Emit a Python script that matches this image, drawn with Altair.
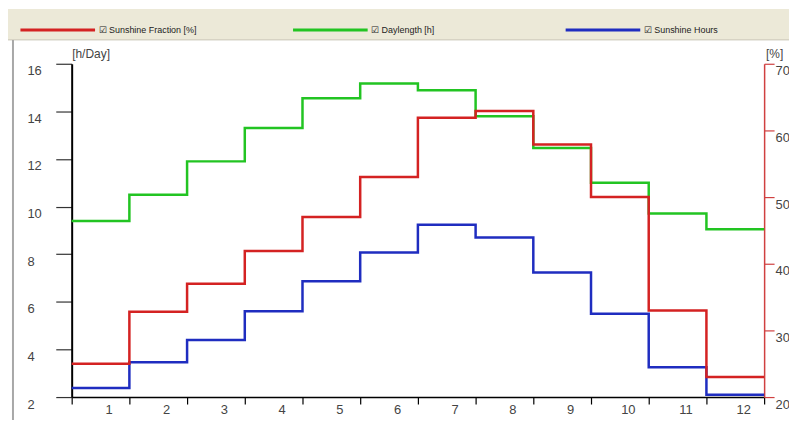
import altair as alt
import pandas as pd

# ---- data ----
months = list(range(1, 13))
series_names = ["Sunshine Fraction [%]", "Daylength [h]", "Sunshine Hours"]
series_colors = ["#d42222", "#22c422", "#1f2dc0"]
sunshine_fraction = [25.0, 32.8, 37.0, 41.9, 47.0, 53.0, 61.9, 62.9, 57.9, 50.0, 33.0, 23.0]
daylength = [9.4, 10.5, 11.9, 13.3, 14.55, 15.17, 14.89, 13.8, 12.46, 11.0, 9.71, 9.05]
sunshine_hours = [2.38, 3.46, 4.4, 5.6, 6.86, 8.07, 9.24, 8.7, 7.23, 5.5, 3.25, 2.1]
left_ticks = [2, 4, 6, 8, 10, 12, 14, 16]
right_ticks = [20, 30, 40, 50, 60, 70]
x_ticks = list(range(0, 13))


def steps(name, values):
    # each month spans [m-1, m]; closing point repeats the last value
    rows = [{"x": m - 1, "v": v, "series": name} for m, v in zip(months, values)]
    rows.append({"x": 12, "v": values[-1], "series": name})
    return rows


left_df = pd.DataFrame(steps(series_names[1], daylength) + steps(series_names[2], sunshine_hours))
right_df = pd.DataFrame(steps(series_names[0], sunshine_fraction))

W, H = 696, 335
FONT = "Liberation Sans"

color = alt.Color(
    "series:N",
    scale=alt.Scale(domain=series_names, range=series_colors),
    legend=alt.Legend(
        orient="none", legendX=-53, legendY=-73, direction="horizontal",
        title=None, symbolType="stroke", symbolSize=5625, symbolStrokeWidth=3,
        labelFontSize=9, labelFont=FONT, labelColor="#222", labelOffset=2,
        columnPadding=90, gridAlign="all", labelExpr="'\u2611 ' + datum.label",
        zindex=1, padding=0,
    ),
)

x_enc = alt.X(
    "x:Q",
    scale=alt.Scale(domain=[0, 12], nice=False, zero=False),
    axis=alt.Axis(
        values=x_ticks, tickSize=7, labelPadding=0, labelOffset=37, labelFlush=False,
        labelExpr="datum.value < 12 ? '' + (datum.value + 1) : ''",
        domainColor="#000", domainWidth=1.5, tickColor="#000", tickWidth=1.2,
        title=None, grid=False,
    ),
)

left_line = alt.Chart(left_df).mark_line(interpolate="step-after", strokeWidth=2.5).encode(
    x=x_enc,
    y=alt.Y(
        "v:Q",
        scale=alt.Scale(domain=[2, 16], nice=False, zero=False),
        axis=alt.Axis(
            values=left_ticks, tickSize=16, labelAlign="left", labelPadding=29,
            labelBaseline="top", labelOffset=1, labelFlush=False,
            domainColor="#000", domainWidth=2, tickColor="#333", tickWidth=1.2,
            title="[h/Day]", titleAngle=0, titleAlign="left", titleX=0, titleY=-10,
            titleBaseline="middle", titleFontWeight="normal", titleFontSize=12,
            titleFont=FONT, titleColor="#444", grid=False,
        ),
    ),
    color=color,
)

right_line = alt.Chart(right_df).mark_line(interpolate="step-after", strokeWidth=2.5).encode(
    x=x_enc,
    y=alt.Y(
        "v:Q",
        scale=alt.Scale(domain=[20, 70], nice=False, zero=False),
        axis=alt.Axis(
            orient="right", values=right_ticks, tickSize=10, labelAlign="left",
            labelPadding=1, labelBaseline="top", labelOffset=1, labelFlush=False,
            domainColor="#d04040", domainWidth=1.5, tickColor="#d04040", tickWidth=1.2,
            title="[%]", titleAngle=0, titleAlign="center", titleX=10, titleY=-10,
            titleBaseline="middle", titleFontWeight="normal", titleFontSize=12,
            titleFont=FONT, titleColor="#444", grid=False,
        ),
    ),
    color=color,
)

one = pd.DataFrame({"k": [0]})
band = alt.Chart(one).mark_rect(color="#ece9d8").encode(
    x=alt.value(-64), x2=alt.value(W + 30), y=alt.value(-55), y2=alt.value(-24)
)
sep = alt.Chart(one).mark_rule(color="#c9c6b6", strokeWidth=1).encode(
    x=alt.value(-64), x2=alt.value(W + 30), y=alt.value(-24)
)
border = alt.Chart(one).mark_rule(color="#a8a8a8", strokeWidth=2).encode(
    x=alt.value(-59), y=alt.value(-24), y2=alt.value(H + 30)
)

chart = (
    alt.layer(band, sep, border, left_line, right_line)
    .resolve_scale(y="independent")
    .properties(
        width=W, height=H,
        autosize=alt.AutoSizeParams(type="none"),
        padding={"left": 64, "top": 55, "right": 25, "bottom": 22},
    )
    .configure_view(stroke=None)
    .configure_axis(labelFont=FONT, labelFontSize=13, labelColor="#444")
)

chart.save("out.html", embed_options={"renderer": "svg", "actions": False})
